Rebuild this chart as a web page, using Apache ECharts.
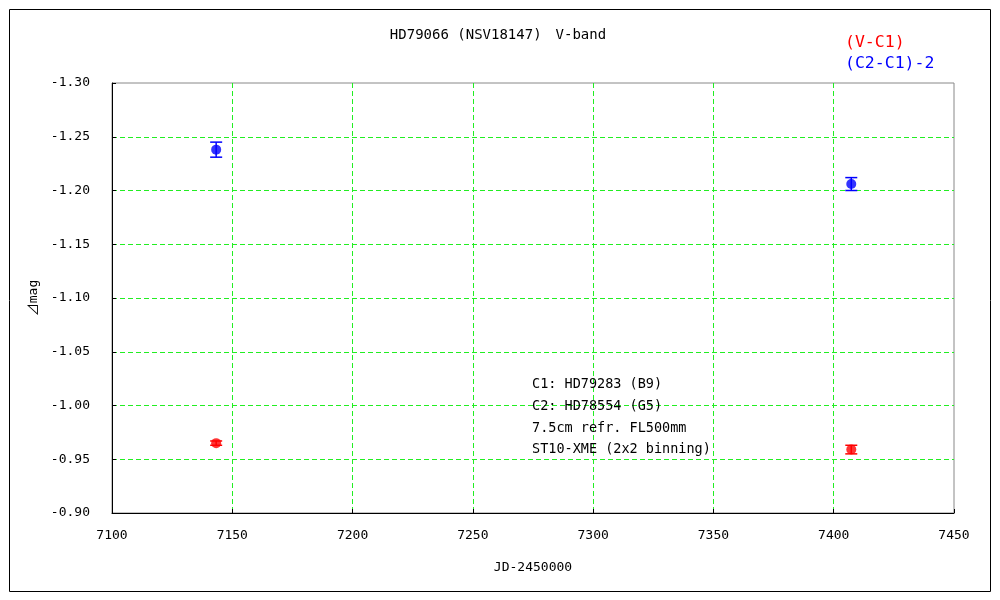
<!DOCTYPE html>
<html>
<head>
<meta charset="utf-8">
<script src="https://cdn.jsdelivr.net/npm/echarts@6/dist/echarts.min.js"></script>
<style>html,body{margin:0;padding:0;background:#fff}#c{width:1000px;height:600px}</style>
</head>
<body>
<div id="c"></div>
<script>
const jd = [7143.3, 7407.3];
const vc1 = [-0.965, -0.959];
const vc1Err = [0.002, 0.004];
const c2c1 = [-1.238, -1.206];
const c2c1Err = [0.007, 0.006];
const titleText = 'HD79066 (NSV18147)\u3000V-band';
const notes = ['C1: HD79283 (B9)', 'C2: HD78554 (G5)', '7.5cm refr. FL500mm', 'ST10-XME (2x2 binning)'];
const FONT = '"DejaVu Sans Mono", "Noto Sans CJK JP", monospace';

const chart = echarts.init(document.getElementById('c'));

function errSeries(xs, ys, es, color) {
  return {
    type: 'custom',
    data: xs.map((x, i) => [x, ys[i], es[i]]),
    z: 3,
    renderItem: function (params, api) {
      const x = api.value(0), y = api.value(1), e = api.value(2);
      const p1 = api.coord([x, y - e]);
      const p2 = api.coord([x, y + e]);
      const w = 6;
      const st = {stroke: color, lineWidth: 1.5};
      return {type: 'group', children: [
        {type: 'line', shape: {x1: p1[0], y1: p1[1], x2: p2[0], y2: p2[1]}, style: st},
        {type: 'line', shape: {x1: p1[0] - w, y1: p1[1], x2: p1[0] + w, y2: p1[1]}, style: st},
        {type: 'line', shape: {x1: p2[0] - w, y1: p2[1], x2: p2[0] + w, y2: p2[1]}, style: st}
      ]};
    }
  };
}

const axisLabelStyle = {color: '#000', fontSize: 13, fontFamily: FONT};
const gridLine = {show: true, showMinLine: false, showMaxLine: false, lineStyle: {color: '#22ee22', type: [5, 3], width: 1}};

chart.setOption({
  animation: false,
  backgroundColor: '#fff',
  grid: {left: 112, top: 83, right: 46, bottom: 87, show: true, borderColor: '#888', borderWidth: 1},
  xAxis: {
    type: 'value', min: 7100, max: 7450, interval: 50,
    name: 'JD-2450000', nameLocation: 'middle', nameGap: 48,
    nameTextStyle: axisLabelStyle,
    axisLine: {show: true, lineStyle: {color: '#000'}},
    axisTick: {show: true, inside: true, length: 4, lineStyle: {color: '#000'}},
    axisLabel: Object.assign({margin: 16, formatter: v => String(v)}, axisLabelStyle),
    splitLine: gridLine
  },
  yAxis: {
    type: 'value', inverse: true, min: -1.30, max: -0.90, interval: 0.05,
    name: '\u22BFmag', nameLocation: 'middle', nameGap: 70, nameRotate: 90,
    nameTextStyle: axisLabelStyle,
    axisLine: {show: true, lineStyle: {color: '#000'}},
    axisTick: {show: true, inside: true, length: 4, lineStyle: {color: '#000'}},
    axisLabel: Object.assign({margin: 22, formatter: v => v.toFixed(2)}, axisLabelStyle),
    splitLine: gridLine
  },
  series: [
    errSeries(jd, c2c1, c2c1Err, '#0000ff'),
    errSeries(jd, vc1, vc1Err, '#ff0000'),
    {type: 'scatter', name: '(C2-C1)-2', data: jd.map((x, i) => [x, c2c1[i]]), symbol: 'circle', symbolSize: 10, itemStyle: {color: '#0000ff'}, z: 4},
    {type: 'scatter', name: '(V-C1)', data: jd.map((x, i) => [x, vc1[i]]), symbol: 'circle', symbolSize: 10, itemStyle: {color: '#ff0000'}, z: 4}
  ],
  graphic: [
    {type: 'rect', shape: {x: 9.5, y: 9.5, width: 981, height: 582}, style: {fill: 'none', stroke: '#000', lineWidth: 1}, silent: true},
    {type: 'text', x: 498, y: 35, style: {text: titleText, fill: '#000', font: '14px ' + FONT, textAlign: 'center', textVerticalAlign: 'middle'}},
    {type: 'text', x: 845, y: 43, style: {text: '(V-C1)', fill: '#ff0000', font: '16.5px ' + FONT, textVerticalAlign: 'middle'}},
    {type: 'text', x: 845, y: 64, style: {text: '(C2-C1)-2', fill: '#0000ff', font: '16.5px ' + FONT, textVerticalAlign: 'middle'}},
    {type: 'text', x: 532, y: 374, z: 10, style: {text: notes.join('\n'), fill: '#000', font: '13.5px ' + FONT, lineHeight: 21.7, textVerticalAlign: 'top'}}
  ]
});
</script>
</body>
</html>
